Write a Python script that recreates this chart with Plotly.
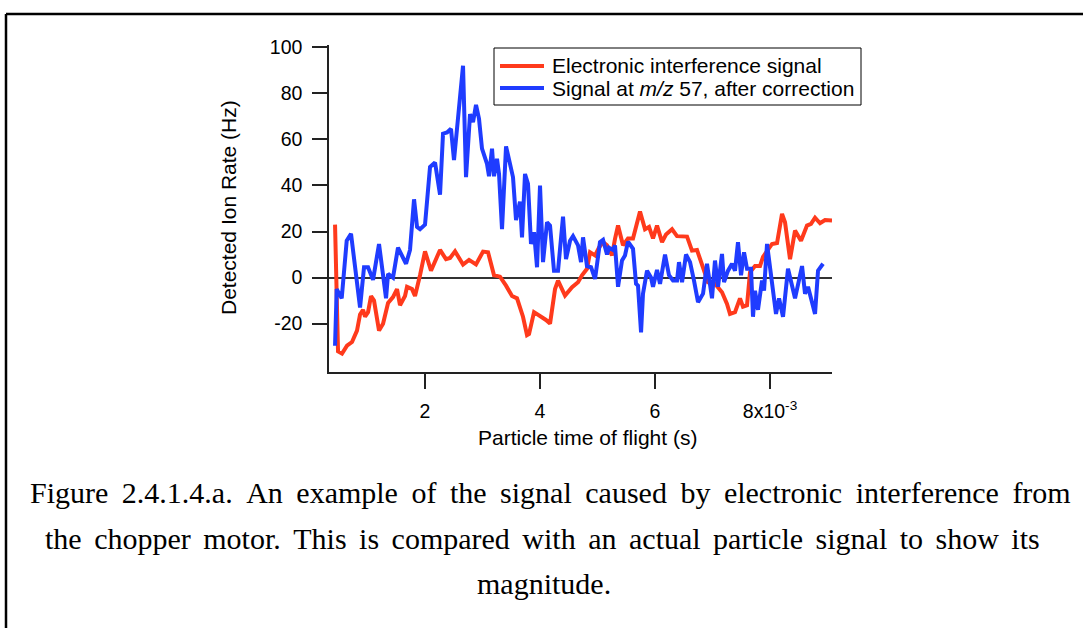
import plotly.graph_objects as go

# Particle time of flight in units of 10^-3 s
blue_x = [0.435, 0.464, 0.551, 0.638, 0.713, 0.870, 0.939, 1.009, 1.096, 1.200, 1.322, 1.357, 1.443, 1.530,
          1.670, 1.739, 1.809, 1.861, 1.913, 2.000, 2.087, 2.174, 2.261, 2.313, 2.383, 2.452, 2.504, 2.574,
          2.661, 2.713, 2.783, 2.835, 2.887, 2.939, 2.991, 3.078, 3.113, 3.165, 3.200, 3.252, 3.287, 3.339,
          3.409, 3.478, 3.530, 3.583, 3.652, 3.687, 3.739, 3.791, 3.843, 3.896, 3.948, 4.000, 4.052, 4.122,
          4.174, 4.243, 4.313, 4.400, 4.452, 4.522, 4.574, 4.661, 4.713, 4.748, 4.817, 4.887, 4.957, 5.043,
          5.096, 5.165, 5.200, 5.270, 5.304, 5.357, 5.426, 5.478, 5.530, 5.617, 5.670, 5.704, 5.757, 5.791,
          5.861, 5.930, 5.965, 6.035, 6.087, 6.174, 6.243, 6.313, 6.383, 6.417, 6.470, 6.539, 6.609, 6.678,
          6.748, 6.835, 6.904, 6.991, 7.043, 7.096, 7.165, 7.200, 7.270, 7.339, 7.391, 7.443, 7.496, 7.548,
          7.600, 7.670, 7.704, 7.739, 7.791, 7.861, 7.896, 7.948, 8.035, 8.104, 8.157, 8.226, 8.313, 8.435,
          8.557, 8.609, 8.661, 8.783, 8.835, 8.922]
blue_y = [-29.6, -5, -9, 16, 19, -13, 4.5, 4.5, -1, 14.6, -9, 1.6, 0, 13,
          6, 12, 34, 22, 21, 23, 48, 50, 36, 62.5, 63, 64.6, 51, 70,
          92, 43.6, 71, 67.5, 75, 69, 56, 49.4, 44, 56, 44, 51.6, 45, 21,
          57, 49.4, 43.6, 25, 33, 17.5, 45, 40.7, 14.6, 19.7, 4.5, 40, 6.7, 24,
          22.6, 3, 3, 26.5, 8, 16, 18, 14, 6.7, 17.5, 5, 4.5, -0.6, 15.4,
          16.4, 10, 13, 12, 14, -4, 7.4, 9.6, 15.6, 12.5, -2.7, -3.5, -23.8, -7,
          3, 0, -4, 3.3, -2.7, 10, 1, -1.3, -1.3, 6.7, -2, 10, 6.7, -1.3,
          -10.7, -7, 6, -9, 7.4, -4, 10.3, -2, 3, 6, 3, 15.4, 1, 11,
          3.8, 3.8, -17, -5.7, -14, -1.3, -5.7, 14.6, -1.3, -15.8, -9, -17, 3.8, -9,
          5, -7, -4, -15.8, 3, 6]

red_x = [0.435, 0.487, 0.557, 0.643, 0.730, 0.817, 0.870, 0.922, 0.957, 1.009, 1.061, 1.113, 1.200, 1.270,
         1.357, 1.443, 1.513, 1.565, 1.652, 1.687, 1.774, 1.826, 1.913, 2.000, 2.104, 2.174, 2.261, 2.365,
         2.435, 2.522, 2.661, 2.765, 2.887, 3.009, 3.096, 3.200, 3.304, 3.409, 3.513, 3.600, 3.704, 3.774,
         3.809, 3.896, 4.000, 4.104, 4.174, 4.261, 4.313, 4.435, 4.557, 4.661, 4.730, 4.817, 4.870, 4.957,
         5.026, 5.096, 5.165, 5.252, 5.304, 5.357, 5.443, 5.530, 5.617, 5.739, 5.826, 5.896, 5.965, 6.035,
         6.122, 6.191, 6.296, 6.383, 6.557, 6.643, 6.730, 6.835, 6.922, 7.043, 7.165, 7.252, 7.304, 7.391,
         7.478, 7.530, 7.600, 7.652, 7.739, 7.826, 7.878, 8.035, 8.122, 8.209, 8.261, 8.348, 8.435, 8.539,
         8.643, 8.713, 8.783, 8.870, 8.957, 9.078]
red_y = [23, -32, -33, -29.6, -28, -23, -16, -14, -17, -15, -8, -10, -23, -20,
         -11, -8.5, -5, -12, -8, -4, -5, -8, 1, 11.4, 3, 7, 12, 8,
         8.5, 11.4, 5.7, 7.7, 5.7, 11.3, 11, 1, 0.4, -3.5, -8, -9, -17, -25,
         -24.5, -15, -16.5, -18.4, -20, -5, -1.3, -7.8, -4.2, -2, 1, 3.8, 11, 9.6,
         13, 15.4, 14, 9.6, 16.8, 22.6, 14, 17, 17, 28.7, 21, 22, 17, 22.6,
         15.4, 18.7, 21, 18, 17.8, 11.7, 12, 5, -2, -2.7, -6.4, -11.4, -15.8, -15,
         -9, -12.6, -12, 2.3, 5, 5, 9, 14.6, 15, 27.7, 24, 8, 20.4, 16,
         22.6, 23.3, 26, 23.6, 25, 24.8]

series_names = ["Electronic interference signal", "Signal at <i>m/z</i> 57, after correction"]
series_colors = ["#ff3a1c", "#1f3cff"]
x_tick_vals = [2, 4, 6, 8]
x_tick_text = ["2", "4", "6", "8x10<sup>-3</sup>"]
y_tick_vals = [-20, 0, 20, 40, 60, 80, 100]
y_tick_text = ["-20", "0", "20", "40", "60", "80", "100"]
x_title = "Particle time of flight (s)"
y_title = "Detected Ion Rate (Hz)"
caption_lines = [
    "Figure 2.4.1.4.a. An example of the signal caused by electronic interference from",
    "the chopper motor. This is compared with an actual particle signal to show its",
    "magnitude.",
]

W, H = 1083, 628
L, R, T, B = 329, 251, 45, 256
PW, PH = W - L - R, H - T - B


def px(xp):
    return (xp - L) / PW


def py(yp):
    return (H - B - yp) / PH


sans = "Liberation Sans, Arial, Helvetica, sans-serif"
serif = "Liberation Serif, Times New Roman, serif"

fig = go.Figure()
fig.add_trace(go.Scatter(x=red_x, y=red_y, mode="lines", name=series_names[0], showlegend=False,
                         line=dict(color=series_colors[0], width=4)))
fig.add_trace(go.Scatter(x=blue_x, y=blue_y, mode="lines", name=series_names[1], showlegend=False,
                         line=dict(color=series_colors[1], width=4)))

axis_common = dict(showgrid=False, showline=True, linecolor="#222", linewidth=1.5,
                   ticks="outside", ticklen=15, tickwidth=1.5, tickcolor="#222",
                   tickfont=dict(family=sans, size=19.5, color="black"), mirror=False)

fig.update_xaxes(range=[0.330, 9.078], tickvals=x_tick_vals, ticktext=x_tick_text,
                 zeroline=False, ticklabelstandoff=6, **axis_common)
fig.update_yaxes(range=[-41, 101], tickvals=y_tick_vals, ticktext=y_tick_text, zeroline=True,
                 zerolinecolor="#333", zerolinewidth=1.5, ticklabelstandoff=6, **axis_common)

annotations = [
    dict(text=x_title, x=px(587), y=py(437), xref="paper", yref="paper", showarrow=False,
         xanchor="center", yanchor="middle", font=dict(family=sans, size=21, color="black")),
    dict(text=y_title, x=px(228), y=py(208), xref="paper", yref="paper", showarrow=False,
         textangle=-90, xanchor="center", yanchor="middle", font=dict(family=sans, size=21, color="black")),
]

# caption (first two lines justified like the source document)
spacers = [" \u2009", " \u2006", " "]
centers = [550, 542, 544]
for line_text, yc, sp, xc in zip(caption_lines, [492, 538, 583], spacers, centers):
    annotations.append(dict(text=sp.join(line_text.split(" ")), x=px(xc), y=py(yc),
                            xref="paper", yref="paper", showarrow=False,
                            xanchor="center", yanchor="middle",
                            font=dict(family=serif, size=30, color="black")))

shapes = [
    # document frame
    dict(type="line", xref="paper", yref="paper", x0=px(6), x1=px(1090), y0=py(14), y1=py(14),
         line=dict(color="black", width=2.5)),
    dict(type="line", xref="paper", yref="paper", x0=px(6), x1=px(6), y0=py(14), y1=py(640),
         line=dict(color="black", width=2.5)),
    # legend box
    dict(type="rect", xref="paper", yref="paper", x0=px(494), x1=px(861), y0=py(48), y1=py(105),
         line=dict(color="black", width=1), fillcolor="white", layer="above"),
]

# legend entries
for i, (name, color) in enumerate(zip(series_names, series_colors)):
    yc = [66, 88][i]
    shapes.append(dict(type="line", xref="paper", yref="paper", x0=px(500), x1=px(544),
                       y0=py(yc), y1=py(yc), line=dict(color=color, width=4), layer="above"))
    annotations.append(dict(text=name, x=px(550), y=py(yc), xref="paper", yref="paper",
                            showarrow=False, xanchor="left", yanchor="middle",
                            font=dict(family=sans, size=21, color="black")))

fig.update_layout(
    width=W, height=H, margin=dict(l=L, r=R, t=T, b=B, autoexpand=False),
    paper_bgcolor="white", plot_bgcolor="white",
    showlegend=False,
    annotations=annotations, shapes=shapes,
)

fig.write_html("out.html", config={"displayModeBar": False},
               post_script="document.body.style.margin='0px';")
